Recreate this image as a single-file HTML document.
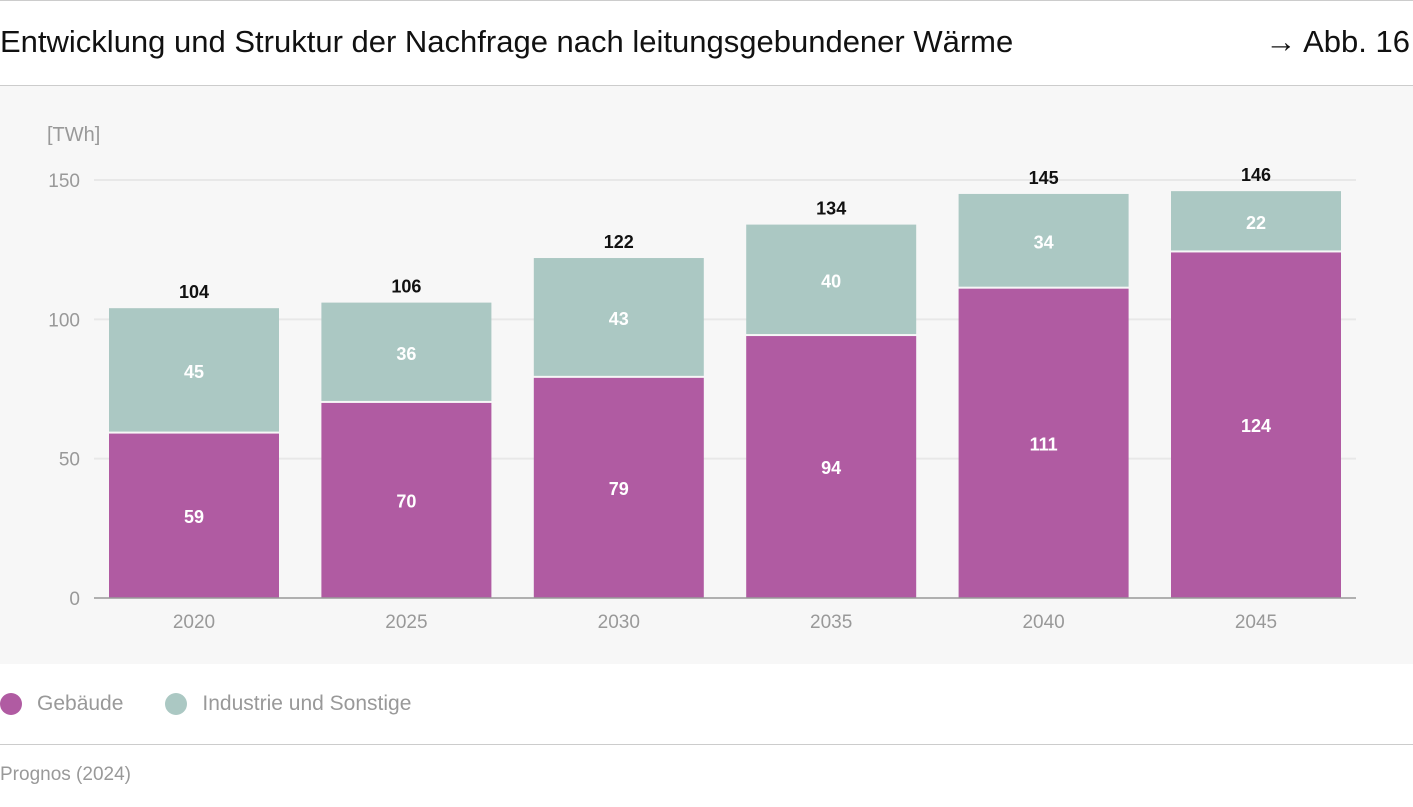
<!DOCTYPE html>
<html><head><meta charset="utf-8"><style>
body{margin:0;width:1413px;height:807px;background:#fff;font-family:"Liberation Sans",sans-serif;overflow:hidden;position:relative}
.abs{position:absolute}
</style></head><body>
<div class="abs" style="left:0;top:0;width:1413px;height:1px;background:#ccc"></div>
<div class="abs" style="left:0;top:24px;font-size:31px;color:#111">Entwicklung und Struktur der Nachfrage nach leitungsgebundener Wärme</div>
<div class="abs" style="right:3px;top:24px;font-size:31px;color:#111">→ Abb. 16</div>
<div class="abs" style="left:0;top:85px;width:1413px;height:1px;background:#ccc"></div>
<svg class="abs" style="left:0;top:86px" width="1413" height="578" id="chart"></svg>
<div class="abs" style="left:0;top:692px;font-size:21px;color:#999;display:flex;align-items:center">
 <span style="display:flex;align-items:center"><span style="width:22px;height:22px;border-radius:50%;background:#b05ba2;display:inline-block;margin-right:15px"></span>Gebäude</span>
 <span style="display:flex;align-items:center;margin-left:42px"><span style="width:22px;height:22px;border-radius:50%;background:#abc8c3;display:inline-block;margin-right:15px"></span>Industrie und Sonstige</span>
</div>
<div class="abs" style="left:0;top:744px;width:1413px;height:1px;background:#ccc"></div>
<div class="abs" style="left:0;top:764px;font-size:19px;color:#999">Prognos (2024)</div>
<script>
const categories=["2020","2025","2030","2035","2040","2045"];
const gebaeude=[59,70,79,94,111,124];
const industrie=[45,36,43,40,34,22];
const totals=[104,106,122,134,145,146];
const yTicks=[0,50,100,150];
const svg=document.getElementById('chart');
const NS='http://www.w3.org/2000/svg';
const OFF=86;
const y0=598-OFF, pxPer=418/150;
const y=v=>y0-v*pxPer;
const x=i=>194+i*212.4;
const bw=170;
function mk(t,a){const e=document.createElementNS(NS,t);for(const k in a)e.setAttribute(k,a[k]);svg.appendChild(e);return e;}
const bg=mk('rect',{x:0,y:0,width:1413,height:578,fill:'#f7f7f7'});


const unit=mk('text',{x:47,y:133-OFF+8,'font-size':20,fill:'#999'});unit.textContent='[TWh]';


yTicks.forEach(t=>{
 if(t>0){const g=mk('line',{x1:94,x2:1356,y1:y(t),y2:y(t),stroke:'#e8e8e8','stroke-width':2});
 
 }
 const l=mk('text',{x:80,y:y(t)+7,'font-size':19,fill:'#999','text-anchor':'end'});l.textContent=t;
 
 
});
categories.forEach((c,i)=>{
 const cx=x(i),a=gebaeude[i],b=industrie[i];
 const r1=mk('rect',{x:cx-bw/2,y:y(a),width:bw,height:a*pxPer,fill:'#b05ba2'});
 
 
 const r2=mk('rect',{x:cx-bw/2,y:y(a+b),width:bw,height:b*pxPer-2,fill:'#abc8c3'});
 
 
 const t1=mk('text',{x:cx,y:y(a/2)+7,'font-size':18,'font-weight':'bold',fill:'#fff','text-anchor':'middle'});t1.textContent=a;
 
 
 const t2=mk('text',{x:cx,y:y(a+b/2)+7,'font-size':18,'font-weight':'bold',fill:'#fff','text-anchor':'middle'});t2.textContent=b;
 
 
 const t3=mk('text',{x:cx,y:y(a+b)-10,'font-size':18,'font-weight':'bold',fill:'#111','text-anchor':'middle'});t3.textContent=totals[i];
 
 
 const xl=mk('text',{x:cx,y:y0+30,'font-size':19,fill:'#999','text-anchor':'middle'});xl.textContent=c;
 
 
});
const ax=mk('line',{x1:94,x2:1356,y1:y0,y2:y0,stroke:'#999','stroke-width':1.5});


</script>
</body></html>
